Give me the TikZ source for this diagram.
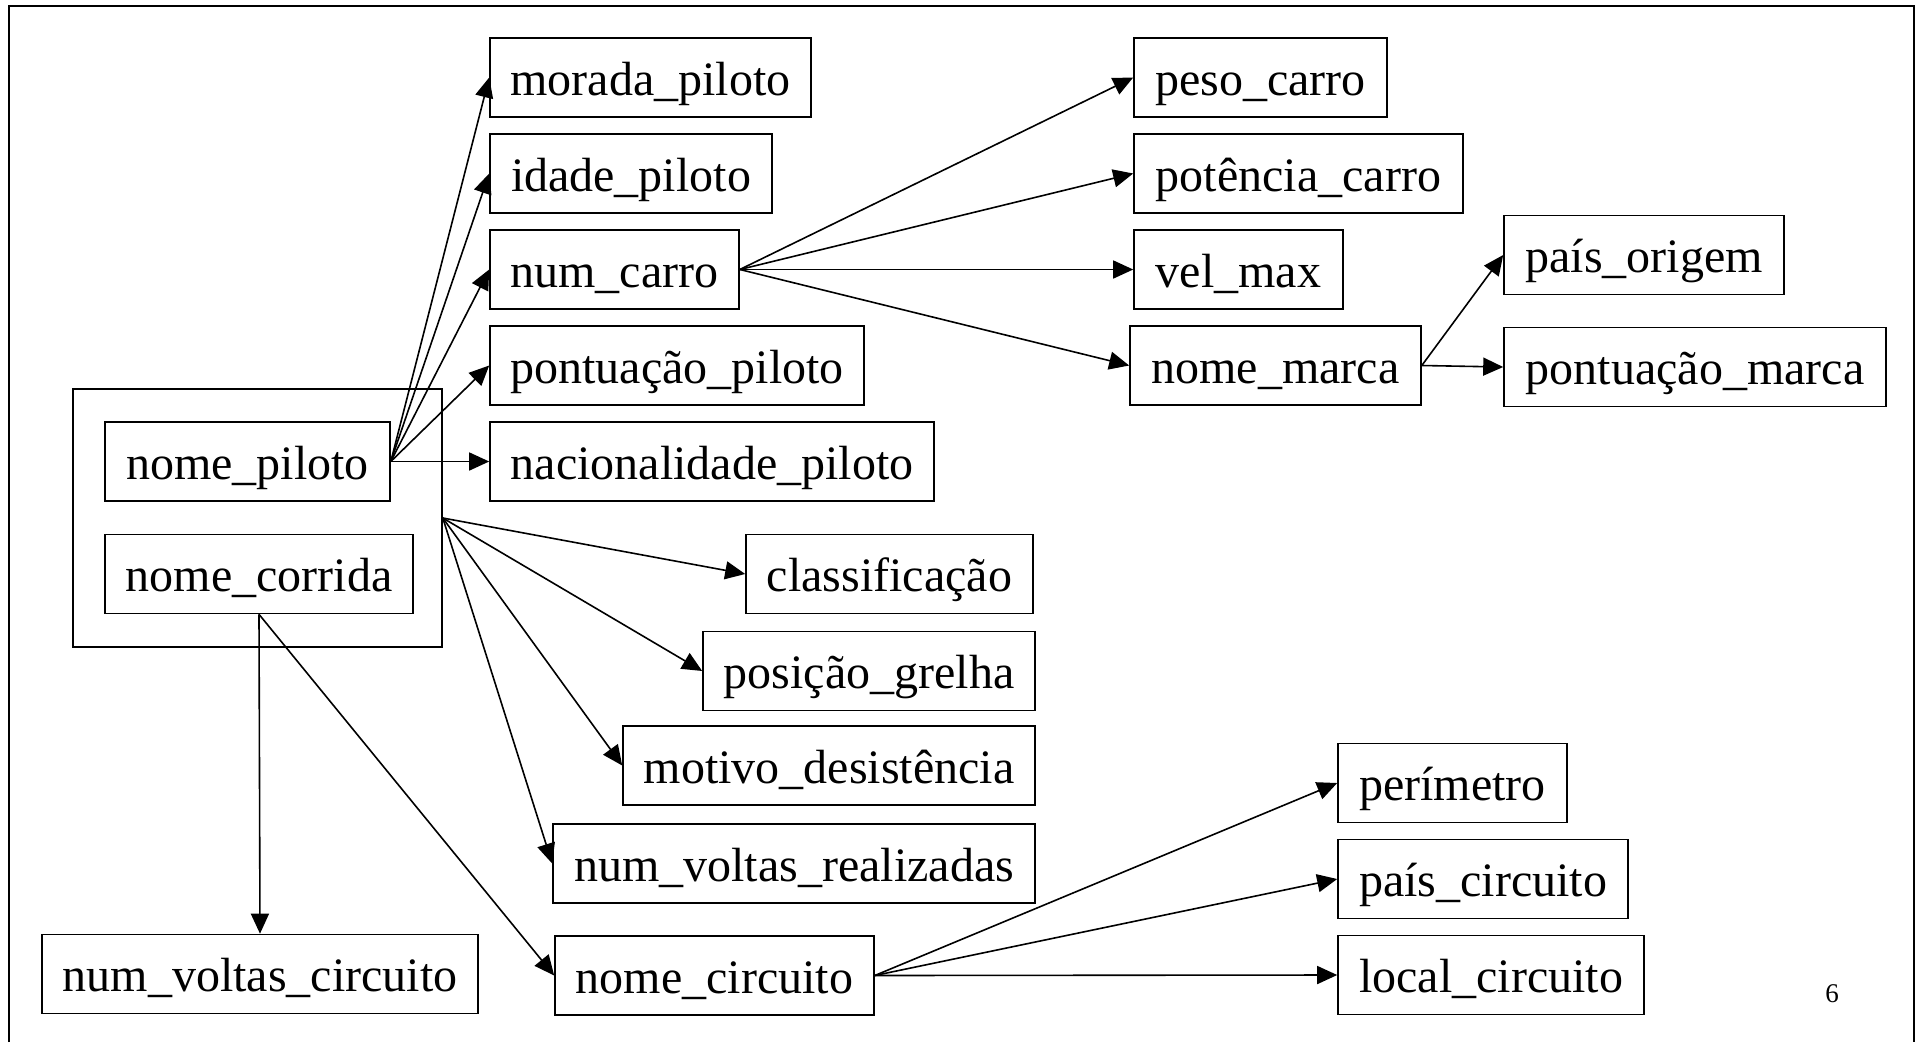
\documentclass[tikz,border=0pt]{standalone}
\usepackage{fontspec}
\setmainfont{Liberation Serif}
\usetikzlibrary{arrows.meta}
\tikzset{
  attr/.style={draw, line width=1.6pt, inner sep=0pt, minimum height=79pt,
    text height=40pt, text depth=5pt, font=\fontsize{48}{58}\selectfont},
  clusterbox/.style={draw, line width=1.6pt, inner sep=0pt, minimum width=369pt, minimum height=258pt},
  edge/.style={line width=1.6pt, -{Triangle[length=20pt,width=18pt]}},
  pagenum/.style={font=\fontsize{27}{32}\selectfont, inner sep=0pt}
}
\begin{document}
\begin{tikzpicture}[x=1pt,y=-1pt]
\useasboundingbox (0,0) rectangle (1917,1042);
\draw[line width=1.6pt] (9,1042) -- (9,6) -- (1914,6) -- (1914,1042);

\node[clusterbox] (cluster) at (257.5,518) {};
\node[attr, minimum width=285pt] (nomepiloto) at (247.5,461.5) {nome\_piloto};
\node[attr, minimum width=308pt] (nomecorrida) at (259,574) {nome\_corrida};

\node[attr, minimum width=321pt] (morada) at (650.5,77.5) {morada\_piloto};
\node[attr, minimum width=282pt] (idade) at (631,173.5) {idade\_piloto};
\node[attr, minimum width=249pt] (numcarro) at (614.5,269.5) {num\_carro};
\node[attr, minimum width=374pt] (pontpiloto) at (677,365.5) {pontuação\_piloto};
\node[attr, minimum width=444pt] (nacional) at (712,461.5) {nacionalidade\_piloto};

\node[attr, minimum width=253pt] (peso) at (1260.5,77.5) {peso\_carro};
\node[attr, minimum width=329pt] (potencia) at (1298.5,173.5) {potência\_carro};
\node[attr, minimum width=209pt] (velmax) at (1238.5,269.5) {vel\_max};
\node[attr, minimum width=291pt] (nomemarca) at (1275.5,365.5) {nome\_marca};
\node[attr, minimum width=280pt] (paisorigem) at (1644,255) {país\_origem};
\node[attr, minimum width=382pt] (pontmarca) at (1695,367) {pontuação\_marca};

\node[attr, minimum width=287pt] (classif) at (889.5,574) {classificação};
\node[attr, minimum width=332pt] (posicao) at (869,671) {posição\_grelha};
\node[attr, minimum width=412pt] (motivo) at (829,765.5) {motivo\_desistência};
\node[attr, minimum width=482pt] (voltasreal) at (794,863.5) {num\_voltas\_realizadas};

\node[attr, minimum width=436pt] (voltascirc) at (260,974) {num\_voltas\_circuito};
\node[attr, minimum width=319pt] (nomecirc) at (714.5,975.5) {nome\_circuito};
\node[attr, minimum width=229pt] (perimetro) at (1452.5,783) {perímetro};
\node[attr, minimum width=290pt] (paiscirc) at (1483,879) {país\_circuito};
\node[attr, minimum width=306pt] (localcirc) at (1491,975) {local\_circuito};

\node[pagenum] (pg) at (1832,994) {6};

\foreach \t in {morada,idade,numcarro,pontpiloto,nacional}
  \draw[edge] (nomepiloto.east) -- (\t.west);
\foreach \t in {peso,potencia,velmax,nomemarca}
  \draw[edge] (numcarro.east) -- (\t.west);
\foreach \t in {paisorigem,pontmarca}
  \draw[edge] (nomemarca.east) -- (\t.west);
\foreach \t in {classif,posicao,motivo,voltasreal}
  \draw[edge] (cluster.east) -- (\t.west);
\draw[edge] (nomecorrida.south) -- (voltascirc.north);
\draw[edge] (nomecorrida.south) -- (nomecirc.west);
\foreach \t in {perimetro,paiscirc,localcirc}
  \draw[edge] (nomecirc.east) -- (\t.west);
\end{tikzpicture}
\end{document}
